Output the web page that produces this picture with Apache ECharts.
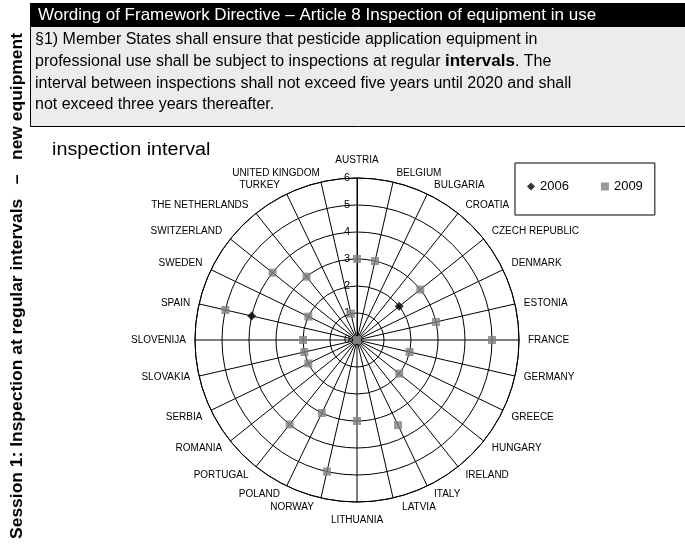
<!DOCTYPE html>
<html><head><meta charset="utf-8">
<script src="https://cdn.jsdelivr.net/npm/echarts@6/dist/echarts.min.js"></script>
<style>html,body{margin:0;padding:0;background:#fff}#c{width:685px;height:549px}</style>
</head><body><div id="c"></div>
<script>
const countries = ['AUSTRIA','BELGIUM','BULGARIA','CROATIA','CZECH REPUBLIC','DENMARK','ESTONIA','FRANCE','GERMANY','GREECE','HUNGARY','IRELAND','ITALY','LATVIA','LITHUANIA','NORWAY','POLAND','PORTUGAL','ROMANIA','SERBIA','SLOVAKIA','SLOVENIJA','SPAIN','SWEDEN','SWITZERLAND','THE NETHERLANDS','TURKEY','UNITED KINGDOM'];
const values2006 = [0,0,0,0,2,0,0,0,0,0,0,0,0,0,0,0,0,0,0,0,0,0,4,0,0,0,0,0];
const values2009 = [3,3,0,0,3,0,3,5,2,0,2,0,3.5,0,3,5,3,4,0,2,2,2,5,2,4,3,0,1];
const seriesNames = ['2006','2009'];
const headerText = 'Wording of Framework Directive \u2013 Article 8 Inspection of equipment in use';
const boxLines = [
  '\u00a71) Member States shall ensure that pesticide application equipment in',
  'professional use shall be subject to inspections at regular {b|intervals}. The',
  'interval between inspections shall not exceed five years until 2020 and shall',
  'not exceed three years thereafter.'
];
const axisTitle = 'inspection interval';
const sideText = 'Session 1: Inspection at regular intervals   \u2013   new equipment';

const F = '"Liberation Sans", Arial, sans-serif';
const lbl = { fontSize: 10, fontFamily: F, color: '#000' };
// label placement styles (mimic spreadsheet label placement)
const labelStyleKey = { 'AUSTRIA': 'v', 'LITHUANIA': 'v', 'BELGIUM': 'r', 'LATVIA': 'r', 'UNITED KINGDOM': 'u', 'NORWAY': 'l' };

const chart = echarts.init(document.getElementById('c'));
chart.setOption({
  animation: false,
  backgroundColor: '#fff',
  polar: { center: [357, 340], radius: 162 },
  angleAxis: {
    type: 'value', min: 0, max: countries.length, interval: 1, startAngle: 90, clockwise: true,
    axisLine: { show: true, lineStyle: { color: '#000', width: 1 } },
    axisTick: { show: false },
    splitLine: { show: true, lineStyle: { color: '#000', width: 1 } },
    axisLabel: { margin: 4, color: '#000', fontSize: 10, fontFamily: F,
      formatter: v => { const n = countries[v]; if (!n) return ''; return '{' + (labelStyleKey[n] || 'a') + '|' + n + '}'; },
      rich: {
        a: Object.assign({ padding: [0, 5, 0, 5] }, lbl),
        v: Object.assign({ padding: [9, 0, 9, 0] }, lbl),
        r: Object.assign({ padding: [0, 0, 0, 50] }, lbl),
        l: Object.assign({ padding: [0, 56, 0, 0] }, lbl),
        u: Object.assign({ padding: [0, 88, 0, 0] }, lbl)
      } }
  },
  radiusAxis: {
    type: 'value', min: 0, max: 6, interval: 1,
    axisLine: { show: true, lineStyle: { color: '#000', width: 1 } },
    axisTick: { show: false },
    splitLine: { show: true, lineStyle: { color: '#000', width: 1 } },
    axisLabel: { color: '#000', fontSize: 11, fontFamily: F, margin: 7 }
  },
  legend: {
    left: 515, top: 163, orient: 'horizontal',
    padding: [17, 12, 22, 12], itemGap: 32, itemWidth: 8, itemHeight: 8,
    borderColor: '#000', borderWidth: 1, backgroundColor: '#fff',
    textStyle: { color: '#000', fontSize: 13, fontFamily: F },
    data: [{ name: seriesNames[0], icon: 'diamond' }, { name: seriesNames[1], icon: 'rect' }]
  },
  series: [
    { name: seriesNames[0], type: 'scatter', coordinateSystem: 'polar', symbol: 'diamond', symbolSize: 9,
      itemStyle: { color: '#000' }, data: values2006.map((v, i) => [v, i]) },
    { name: seriesNames[1], type: 'scatter', coordinateSystem: 'polar', symbol: 'rect', symbolSize: 8,
      itemStyle: { color: '#7f7f7f' }, data: values2009.map((v, i) => [v, i]) }
  ],
  graphic: [
    { type: 'rect', shape: { x: 30, y: 3, width: 660, height: 23 }, style: { fill: '#000' } },
    { type: 'text', x: 38, y: 15, style: { text: headerText, fill: '#fff', font: '17px ' + F, verticalAlign: 'middle' } },
    { type: 'rect', shape: { x: 30.5, y: 26.5, width: 660, height: 100 }, style: { fill: '#ececec', stroke: '#000', lineWidth: 1 } },
    { type: 'text', x: 35, y: 29, style: { text: boxLines.join('\n'), fill: '#000', font: '16px ' + F, lineHeight: 21.7,
      rich: { b: { fontWeight: 'bold', fontSize: 17, fontFamily: F, fill: '#000', lineHeight: 21.7 } } } },
    { type: 'text', x: 52, y: 150, scaleX: 1.1, style: { text: axisTitle, fill: '#000', font: '18px ' + F, verticalAlign: 'middle' } },
    { type: 'text', x: 18, y: 286, rotation: Math.PI / 2, scaleX: 1.09, style: { text: sideText, fill: '#000', font: 'bold 16px ' + F, align: 'center', verticalAlign: 'middle' } }
  ]
});
</script></body></html>
